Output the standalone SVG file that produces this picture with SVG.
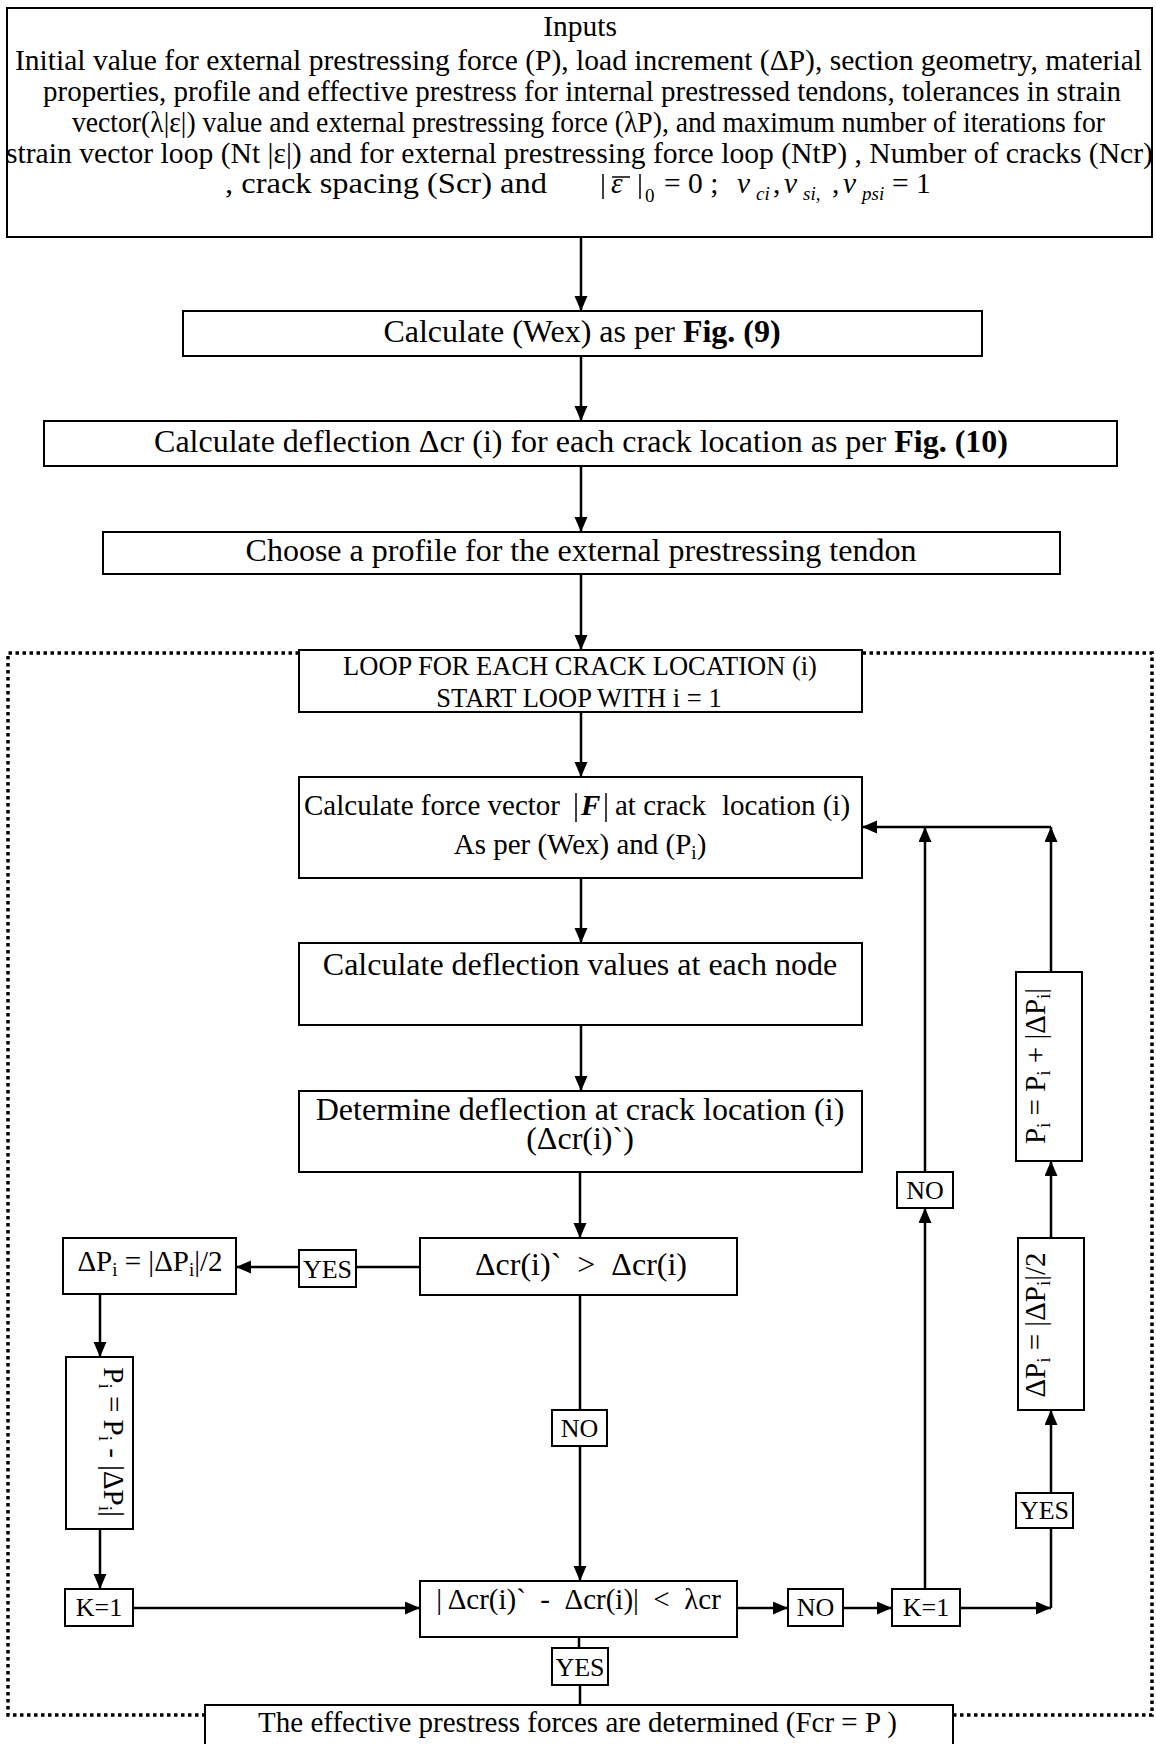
<svg xmlns="http://www.w3.org/2000/svg" width="1156" height="1744" viewBox="0 0 1156 1744">
<style>
text{font-family:"Liberation Serif","Times New Roman",serif;fill:#000}
.box{fill:#fff;stroke:#000;stroke-width:2}
.ln{fill:none;stroke:#000;stroke-width:2.5}
.dot{fill:none;stroke:#000;stroke-width:3.5;stroke-dasharray:3.5 3.5}
.t32{font-size:32px}
.t29{font-size:29px}
.t26{font-size:26px}
.top{font-size:29.5px}
.loop{font-size:26.5px}
.sub{font-size:19px}
.c{text-anchor:middle}
.bar{stroke:#000;stroke-width:1.5}
</style>
<defs>
<marker id="ah" markerUnits="userSpaceOnUse" markerWidth="16" markerHeight="14" refX="15" refY="6.5" orient="auto" viewBox="0 0 16 14">
<path d="M0,0 L15,6.5 L0,13 z" fill="#000"/>
</marker>
</defs>
<rect width="1156" height="1744" fill="#fff"/>

<g id="frame">
<path class="dot" d="M299,653 H8 V1715 H205"/>
<path class="dot" d="M953,1715 H1152 V653 H862"/>
</g>

<g id="connectors">
<line class="ln" x1="581" y1="237" x2="581" y2="311" marker-end="url(#ah)"/>
<line class="ln" x1="581" y1="356" x2="581" y2="421" marker-end="url(#ah)"/>
<line class="ln" x1="581" y1="466" x2="581" y2="532" marker-end="url(#ah)"/>
<line class="ln" x1="581" y1="574" x2="581" y2="650" marker-end="url(#ah)"/>
<line class="ln" x1="581" y1="712" x2="581" y2="777" marker-end="url(#ah)"/>
<line class="ln" x1="581" y1="878" x2="581" y2="943" marker-end="url(#ah)"/>
<line class="ln" x1="581" y1="1025" x2="581" y2="1091" marker-end="url(#ah)"/>
<line class="ln" x1="580" y1="1172" x2="580" y2="1238" marker-end="url(#ah)"/>
<line class="ln" x1="420" y1="1267" x2="356" y2="1267"/>
<line class="ln" x1="299" y1="1267" x2="236" y2="1267" marker-end="url(#ah)"/>
<line class="ln" x1="100" y1="1294" x2="100" y2="1357" marker-end="url(#ah)"/>
<line class="ln" x1="100" y1="1529" x2="100" y2="1589" marker-end="url(#ah)"/>
<line class="ln" x1="133" y1="1608" x2="420" y2="1608" marker-end="url(#ah)"/>
<line class="ln" x1="580" y1="1295" x2="580" y2="1410"/>
<line class="ln" x1="580" y1="1446" x2="580" y2="1581" marker-end="url(#ah)"/>
<line class="ln" x1="737" y1="1608" x2="788" y2="1608" marker-end="url(#ah)"/>
<line class="ln" x1="843" y1="1608" x2="892" y2="1608" marker-end="url(#ah)"/>
<line class="ln" x1="960" y1="1608" x2="1051" y2="1608" marker-end="url(#ah)"/>
<line class="ln" x1="1051" y1="1608" x2="1051" y2="1528"/>
<line class="ln" x1="1051" y1="1493" x2="1051" y2="1410" marker-end="url(#ah)"/>
<line class="ln" x1="1051" y1="1238" x2="1051" y2="1161" marker-end="url(#ah)"/>
<line class="ln" x1="1051" y1="972" x2="1051" y2="827" marker-end="url(#ah)"/>
<line class="ln" x1="1051" y1="827" x2="862" y2="827" marker-end="url(#ah)"/>
<line class="ln" x1="925" y1="1589" x2="925" y2="1208" marker-end="url(#ah)"/>
<line class="ln" x1="925" y1="1172" x2="925" y2="827" marker-end="url(#ah)"/>
<line class="ln" x1="579" y1="1637" x2="579" y2="1648"/>
<line class="ln" x1="580" y1="1685" x2="580" y2="1705"/>
</g>

<g id="inputs">
<rect class="box" x="7" y="8" width="1145" height="229"/>
<text class="top c" x="580" y="36">Inputs</text>
<text class="top" x="15" y="70" textLength="1127" lengthAdjust="spacingAndGlyphs">Initial value for external prestressing force (P), load increment (ΔP), section geometry, material</text>
<text class="top" x="43" y="101" textLength="1078" lengthAdjust="spacingAndGlyphs">properties, profile and effective prestress for internal prestressed tendons, tolerances in strain</text>
<text class="top" x="72" y="132" textLength="1033" lengthAdjust="spacingAndGlyphs">vector(λ|ε|) value and external prestressing force (λP), and maximum number of iterations for</text>
<text class="top" x="6" y="163" textLength="1147" lengthAdjust="spacingAndGlyphs">strain vector loop (Nt |ε|) and for external prestressing force loop (NtP) , Number of cracks (Ncr)</text>
<text class="top" x="225" y="193" textLength="322" lengthAdjust="spacingAndGlyphs">, crack spacing (Scr) and</text>
<line class="bar" x1="603" y1="174" x2="603" y2="199"/>
<text class="top" x="611" y="193" font-style="italic">ε</text>
<line class="bar" x1="612" y1="177" x2="630" y2="177"/>
<line class="bar" x1="640" y1="174" x2="640" y2="199"/>
<text class="sub" x="645" y="202">0</text>
<text class="top" x="664" y="193" xml:space="preserve">= 0 ;</text>
<text class="top" x="737" y="193" font-style="italic">ν</text>
<text class="sub" x="756" y="200" font-style="italic">ci</text>
<text class="top" x="773" y="193">,</text>
<text class="top" x="784" y="193" font-style="italic">ν</text>
<text class="sub" x="803" y="200" font-style="italic">si,</text>
<text class="top" x="832" y="193">,</text>
<text class="top" x="843" y="193" font-style="italic">ν</text>
<text class="sub" x="862" y="200" font-style="italic">psi</text>
<text class="top" x="892" y="193" xml:space="preserve">= 1</text>
</g>

<g id="wex">
<rect class="box" x="183" y="311" width="799" height="45"/>
<text class="t32 c" x="582" y="342">Calculate (Wex) as per <tspan font-weight="bold">Fig. (9)</tspan></text>
</g>

<g id="dcr">
<rect class="box" x="44" y="421" width="1073" height="45"/>
<text class="t32 c" x="581" y="452">Calculate deflection Δcr (i) for each crack location as per <tspan font-weight="bold">Fig. (10)</tspan></text>
</g>

<g id="choose">
<rect class="box" x="103" y="532" width="957" height="42"/>
<text class="t32 c" x="581" y="561">Choose a profile for the external prestressing tendon</text>
</g>

<g id="loop">
<rect class="box" x="299" y="650" width="563" height="62"/>
<text class="loop c" x="580" y="675">LOOP FOR EACH CRACK LOCATION (i)</text>
<text class="loop c" x="579" y="707">START LOOP WITH i = 1</text>
</g>

<g id="force">
<rect class="box" x="299" y="777" width="563" height="101"/>
<text class="t29" x="304" y="815">Calculate force vector</text>
<line class="bar" x1="576" y1="793" x2="576" y2="822"/>
<text class="t29" x="581" y="815" font-weight="bold" font-style="italic">F</text>
<line class="bar" x1="606" y1="793" x2="606" y2="822"/>
<text class="t29" x="615" y="815">at crack</text>
<text class="t29" x="722" y="815">location (i)</text>
<text class="t29 c" x="580" y="854">As per (Wex) and (P<tspan class="sub" dy="5">i</tspan><tspan dy="-5">)</tspan></text>
</g>

<g id="deflvalues">
<rect class="box" x="299" y="943" width="563" height="82"/>
<text class="t32 c" x="580" y="975">Calculate deflection values at each node</text>
</g>

<g id="determine">
<rect class="box" x="299" y="1091" width="563" height="81"/>
<text class="t32 c" x="580" y="1120">Determine deflection at crack location (i)</text>
<text class="t32 c" x="580" y="1149">(Δcr(i)`)</text>
</g>

<g id="dec1">
<rect class="box" x="420" y="1238" width="317" height="57"/>
<text class="t32 c" x="581" y="1275" xml:space="preserve">Δcr(i)`  &gt;  Δcr(i)</text>
</g>

<g id="yesL">
<rect class="box" x="299" y="1250" width="57" height="37"/>
<text class="t26 c" x="327.5" y="1278">YES</text>
</g>

<g id="dPL">
<rect class="box" x="63" y="1238" width="173" height="56"/>
<text class="t29 c" x="150" y="1271">ΔP<tspan class="sub" dy="5">i</tspan><tspan dy="-5"> = |ΔP</tspan><tspan class="sub" dy="5">i</tspan><tspan dy="-5">|/2</tspan></text>
</g>

<g id="piMinus">
<rect class="box" x="66" y="1357" width="67" height="172"/>
<text class="t29 c" transform="translate(104,1442) rotate(90)" xml:space="preserve">P<tspan class="sub" dy="5">i</tspan><tspan dy="-5"> = P</tspan><tspan class="sub" dy="5">i</tspan><tspan dy="-5"> - |ΔP</tspan><tspan class="sub" dy="5">i</tspan><tspan dy="-5">|</tspan></text>
</g>

<g id="k1L">
<rect class="box" x="65" y="1589" width="68" height="37"/>
<text class="t26 c" x="99" y="1616">K=1</text>
</g>

<g id="dec2">
<rect class="box" x="420" y="1581" width="317" height="56"/>
<text class="t29 c" x="578.5" y="1609" xml:space="preserve">| Δcr(i)`  -  Δcr(i)|  &lt;  λcr</text>
</g>

<g id="noMid">
<rect class="box" x="552" y="1410" width="55" height="36"/>
<text class="t26 c" x="579.5" y="1437">NO</text>
</g>

<g id="noR2">
<rect class="box" x="788" y="1589" width="55" height="37"/>
<text class="t26 c" x="815.5" y="1616">NO</text>
</g>

<g id="k1R">
<rect class="box" x="892" y="1589" width="68" height="37"/>
<text class="t26 c" x="926" y="1616">K=1</text>
</g>

<g id="yesR">
<rect class="box" x="1016" y="1493" width="57" height="35"/>
<text class="t26 c" x="1044.5" y="1519">YES</text>
</g>

<g id="dPR">
<rect class="box" x="1018" y="1238" width="66" height="172"/>
<text class="t29 c" transform="translate(1045,1325) rotate(-90)">ΔP<tspan class="sub" dy="5">i</tspan><tspan dy="-5"> = |ΔP</tspan><tspan class="sub" dy="5">i</tspan><tspan dy="-5">|/2</tspan></text>
</g>

<g id="piPlus">
<rect class="box" x="1016" y="972" width="66" height="189"/>
<text class="t29 c" transform="translate(1045,1066) rotate(-90)">P<tspan class="sub" dy="5">i</tspan><tspan dy="-5"> = P</tspan><tspan class="sub" dy="5">i</tspan><tspan dy="-5"> + |ΔP</tspan><tspan class="sub" dy="5">i</tspan><tspan dy="-5">|</tspan></text>
</g>

<g id="noR">
<rect class="box" x="897" y="1172" width="56" height="36"/>
<text class="t26 c" x="925" y="1199">NO</text>
</g>

<g id="yesB">
<rect class="box" x="552" y="1648" width="56" height="37"/>
<text class="t26 c" x="580" y="1676">YES</text>
</g>

<g id="final">
<rect class="box" x="205" y="1705" width="748" height="50"/>
<text class="t29 c" x="577.5" y="1732">The effective prestress forces are determined (Fcr = P )</text>
</g>
</svg>
